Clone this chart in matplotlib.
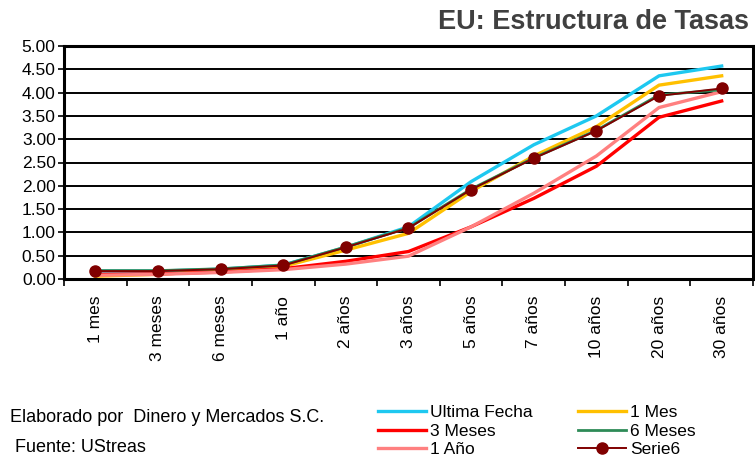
import matplotlib.pyplot as plt
import numpy as np

plazos = ["1 mes", "3 meses", "6 meses", "1 año", "2 años", "3 años",
          "5 años", "7 años", "10 años", "20 años", "30 años"]

ultima_fecha = [0.17, 0.17, 0.21, 0.30, 0.68, 1.12, 2.09, 2.88, 3.50, 4.36, 4.57]
un_mes = [0.06, 0.10, 0.18, 0.27, 0.62, 0.98, 1.88, 2.64, 3.27, 4.16, 4.36]
tres_meses = [0.10, 0.11, 0.15, 0.22, 0.38, 0.59, 1.12, 1.73, 2.42, 3.47, 3.82]
seis_meses = [0.18, 0.18, 0.22, 0.30, 0.69, 1.10, 1.93, 2.60, 3.19, 3.95, 4.06]
un_anio = [0.08, 0.10, 0.14, 0.20, 0.32, 0.49, 1.12, 1.84, 2.64, 3.68, 4.02]
serie6 = [0.17, 0.17, 0.21, 0.29, 0.68, 1.09, 1.92, 2.59, 3.18, 3.93, 4.09]

plt.rcParams["font.family"] = ["Liberation Sans", "DejaVu Sans"]

fig = plt.figure(figsize=(7.55, 4.57), dpi=100)
ax = fig.add_axes([64 / 755, 1 - 279 / 457, 689 / 755, 233 / 457])

x = np.arange(len(plazos))
l1, = ax.plot(x, ultima_fecha, color="#1EC8F0", lw=2.4, label="Ultima Fecha")
l4, = ax.plot(x, un_mes, color="#FFC000", lw=2.4, label="1 Mes")
l2, = ax.plot(x, tres_meses, color="#FF0000", lw=2.4, label="3 Meses")
l3, = ax.plot(x, un_anio, color="#FF8080", lw=2.4, label="1 Año")
l5, = ax.plot(x, seis_meses, color="#2E8B57", lw=2.0, label="6 Meses")
l6, = ax.plot(x, serie6, color="#800000", lw=1.4, marker="o", ms=8,
              label="Serie6")

ax.set_xlim(-0.5, len(plazos) - 0.5)
ax.set_ylim(0, 5)
ax.set_yticks(np.arange(0, 5.01, 0.5))
ax.set_yticklabels([f"{v:.2f}" for v in np.arange(0, 5.01, 0.5)], fontsize=12.5)
ax.yaxis.grid(True, color="black", lw=1.4)
ax.set_axisbelow(True)

# ticks between categories, labels centred on them
ax.set_xticks(np.arange(-0.5, len(plazos), 1.0))
ax.set_xticklabels([])
ax.set_xticks(x, minor=True)
ax.set_xticklabels(plazos, minor=True, rotation=90, fontsize=12.5)
ax.tick_params(axis="x", which="minor", length=0, pad=12)
ax.tick_params(axis="x", which="major", length=5, width=1.2, direction="out")
ax.tick_params(axis="y", length=4, width=1.2, pad=2)
for s in ax.spines.values():
    s.set_linewidth(2.2)

fig.text(749 / 755, 1 - 22 / 457, "EU: Estructura de Tasas", ha="right",
         va="center", fontsize=19.5, fontweight="bold", color="#404040")

fig.text(10 / 755, 1 - 418 / 457, "Elaborado por  Dinero y Mercados S.C.",
         fontsize=13, va="center")
fig.text(15 / 755, 1 - 447 / 457, "Fuente: UStreas",
         fontsize=13, va="center")

# two legend columns placed separately
leg_kw = dict(loc="upper left", frameon=False, fontsize=12.5,
              handlelength=2.75, handletextpad=0.25, labelspacing=0.2,
              borderpad=0, borderaxespad=0)
leg1 = fig.legend(handles=[l1, l2, l3],
                  bbox_to_anchor=(378 / 755, 1 - 405 / 457), **leg_kw)
leg2 = fig.legend(handles=[l4, l5, l6],
                  bbox_to_anchor=(578 / 755, 1 - 405 / 457), **leg_kw)

fig.savefig("out.png", dpi=100)
